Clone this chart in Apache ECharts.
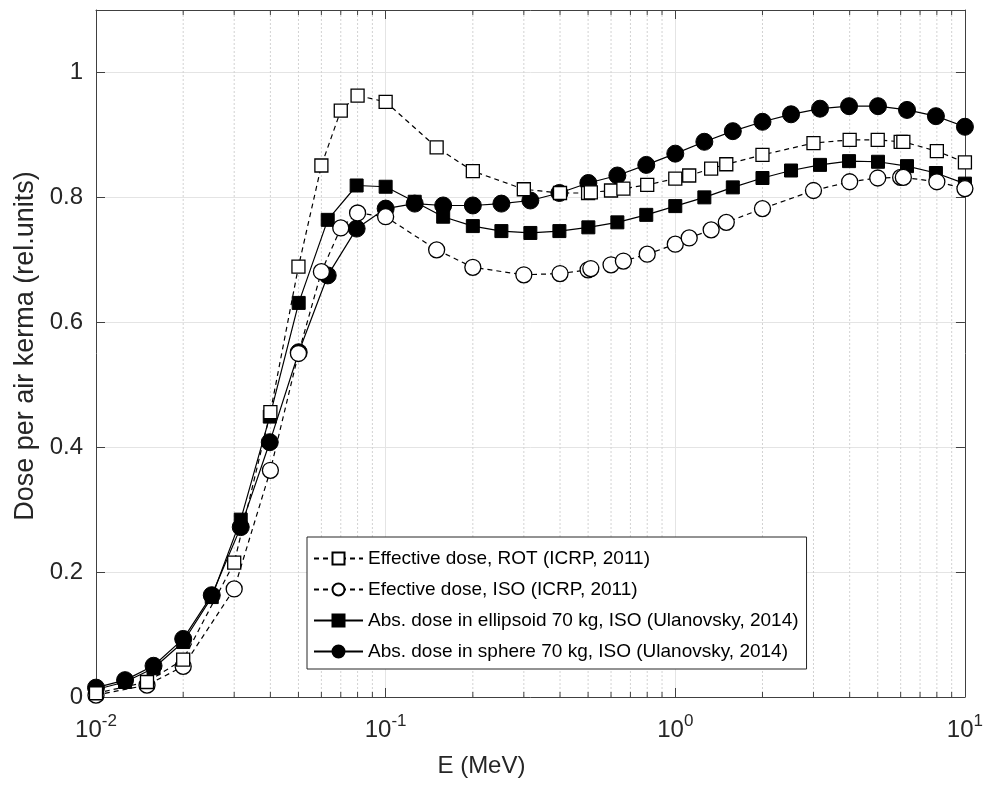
<!DOCTYPE html>
<html>
<head>
<meta charset="utf-8">
<script src="https://cdn.jsdelivr.net/npm/echarts@6/dist/echarts.min.js"></script>
<style>
  html, body { margin: 0; padding: 0; background: #fff; }
  #chart { width: 986px; height: 787px; }
</style>
</head>
<body>
<div id="chart"></div>
<script>
// Photon energies (MeV) of the ICRP 116 effective-dose tables
const energyICRP = [0.01, 0.015, 0.02, 0.03, 0.04, 0.05, 0.06, 0.07, 0.08, 0.1,
  0.15, 0.2, 0.3, 0.4, 0.5, 0.511, 0.6, 0.662, 0.8, 1, 1.117, 1.33, 1.5, 2,
  3, 4, 5, 6, 6.129, 8, 10];

// Effective dose per air kerma, rotational geometry
const effectiveRot = [0.006, 0.024, 0.060, 0.215, 0.456, 0.689, 0.851, 0.939, 0.963, 0.953,
  0.880, 0.842, 0.813, 0.807, 0.807, 0.808, 0.811, 0.814, 0.820, 0.830, 0.835, 0.846, 0.853, 0.868,
  0.887, 0.892, 0.892, 0.889, 0.889, 0.874, 0.856];

// Effective dose per air kerma, isotropic geometry
const effectiveIso = [0.003, 0.019, 0.049, 0.173, 0.363, 0.550, 0.681, 0.751, 0.775, 0.769,
  0.716, 0.688, 0.676, 0.678, 0.684, 0.686, 0.692, 0.698, 0.709, 0.725, 0.735, 0.748, 0.760, 0.782,
  0.811, 0.825, 0.831, 0.832, 0.832, 0.825, 0.814];

// Energies (MeV) of the phantom calculations, ten per decade
const energyPhantom = [0.01, 0.0126, 0.0158, 0.02, 0.0251, 0.0316, 0.0398, 0.0501, 0.0631, 0.0794,
  0.1, 0.126, 0.158, 0.2, 0.251, 0.316, 0.398, 0.501, 0.631, 0.794,
  1, 1.26, 1.58, 2, 2.51, 3.16, 3.98, 5.01, 6.31, 7.94, 10];

// Absorbed dose in the 70 kg ellipsoid, isotropic
const absEllipsoid = [0.012, 0.024, 0.046, 0.088, 0.160, 0.284, 0.449, 0.631, 0.764, 0.819,
  0.817, 0.793, 0.769, 0.754, 0.746, 0.743, 0.746, 0.752, 0.760, 0.772,
  0.786, 0.800, 0.816, 0.831, 0.843, 0.852, 0.858, 0.857, 0.850, 0.839, 0.822];

// Absorbed dose in the 70 kg sphere, isotropic
const absSphere = [0.015, 0.027, 0.050, 0.093, 0.163, 0.272, 0.408, 0.552, 0.675, 0.750,
  0.782, 0.790, 0.787, 0.787, 0.790, 0.795, 0.807, 0.823, 0.835, 0.852,
  0.870, 0.889, 0.906, 0.921, 0.933, 0.942, 0.946, 0.946, 0.940, 0.930, 0.913];

// Minor grid positions of the logarithmic energy axis
const xMinorGrid = [0.02, 0.03, 0.04, 0.05, 0.06, 0.07, 0.08, 0.09,
  0.2, 0.3, 0.4, 0.5, 0.6, 0.7, 0.8, 0.9,
  2, 3, 4, 5, 6, 7, 8, 9];

const seriesNames = [
  'Effective dose, ROT (ICRP, 2011)',
  'Efective dose, ISO (ICRP, 2011)',
  'Abs. dose in ellipsoid 70 kg, ISO (Ulanovsky, 2014)',
  'Abs. dose in sphere 70 kg, ISO (Ulanovsky, 2014)'
];

const X_MIN = 0.01, X_MAX = 10, Y_MIN = 0, Y_MAX = 1.1;
const FONT = '"Liberation Sans", Arial, Helvetica, sans-serif';
const AXIS_COLOR = '#404040';
const TEXT_COLOR = '#262626';

const pairs = (xs, ys) => xs.map((x, i) => [x, ys[i]]);

const chart = echarts.init(document.getElementById('chart'), null, { renderer: 'canvas' });

const logAxisBase = {
  type: 'log', logBase: 10, min: X_MIN, max: X_MAX, interval: 1,
  axisLine: { show: true, onZero: false, lineStyle: { color: AXIS_COLOR, width: 1 } },
  axisTick: { show: true, inside: true, length: 9, lineStyle: { color: AXIS_COLOR } }
};
const valueAxisBase = {
  type: 'value', min: Y_MIN, max: Y_MAX, interval: 0.2,
  axisLine: { show: true, onZero: false, lineStyle: { color: AXIS_COLOR, width: 1 } },
  axisTick: { show: true, inside: true, length: 9, lineStyle: { color: AXIS_COLOR } }
};

const lineSeries = (name, xs, ys, symbol, size, filled, dashed) => ({
  name, type: 'line', data: pairs(xs, ys),
  symbol, symbolSize: size, showAllSymbol: true,
  lineStyle: { color: '#000', width: 1.2, type: dashed ? [5, 4] : 'solid' },
  itemStyle: filled
    ? { color: '#000', borderColor: '#000', borderWidth: 1 }
    : { color: '#fff', borderColor: '#000', borderWidth: 1.3 },
  emphasis: { disabled: true },
  z: 3
});

chart.setOption({
  animation: false,
  backgroundColor: '#fff',
  textStyle: { fontFamily: FONT },
  grid: { left: 96, right: 20, top: 10, bottom: 90, containLabel: false },
  xAxis: [
    Object.assign({}, logAxisBase, {
      position: 'bottom',
      name: 'E (MeV)', nameLocation: 'middle', nameGap: 57,
      nameTextStyle: { fontSize: 24, color: TEXT_COLOR, fontFamily: FONT, padding: [0, 98, 0, 0] },
      axisLabel: {
        margin: 21, color: TEXT_COLOR, fontFamily: FONT,
        formatter: v => '{b|10}{s|' + Math.round(Math.log10(v)) + '}',
        rich: {
          b: { fontSize: 24, lineHeight: 24, verticalAlign: 'bottom', color: TEXT_COLOR, fontFamily: FONT },
          s: { fontSize: 17, lineHeight: 17, verticalAlign: 'bottom', padding: [0, 0, 12, 0], color: TEXT_COLOR, fontFamily: FONT }
        }
      },
      splitLine: { show: true, lineStyle: { color: '#e4e4e4', width: 1 } }
    }),
    Object.assign({}, logAxisBase, {
      position: 'top',
      axisLabel: { show: false },
      splitLine: { show: false }
    })
  ],
  yAxis: [
    Object.assign({}, valueAxisBase, {
      position: 'left',
      name: 'Dose per air kerma (rel.units)', nameLocation: 'middle', nameGap: 56,
      nameTextStyle: { fontSize: 27, color: TEXT_COLOR, fontFamily: FONT, padding: [0, 0, 0, 15] },
      axisLabel: { fontSize: 24, margin: 13, color: TEXT_COLOR, fontFamily: FONT, showMaxLabel: false },
      splitLine: { show: true, lineStyle: { color: '#e4e4e4', width: 1 } }
    }),
    Object.assign({}, valueAxisBase, {
      position: 'right',
      axisLabel: { show: false },
      splitLine: { show: false }
    })
  ],
  legend: {
    data: seriesNames,
    orient: 'vertical', left: 307, top: 537,
    itemWidth: 49, itemHeight: 15, itemGap: 12,
    padding: [12, 8, 8, 6],
    backgroundColor: '#fff', borderColor: '#262626', borderWidth: 1, borderRadius: 0,
    textStyle: { fontSize: 19, color: '#000', fontFamily: FONT },
    selectedMode: false,
    z: 10
  },
  series: [
    {
      // dotted minor grid lines with short inward ticks on the top and bottom frame
      type: 'custom', silent: true, z: 1,
      xAxisIndex: 0, yAxisIndex: 0,
      data: xMinorGrid.map(v => [v, Y_MIN]),
      encode: { x: 0, y: 1 },
      renderItem: (params, api) => {
        const x = api.value(0);
        const b = api.coord([x, Y_MIN]);
        const t = api.coord([x, Y_MAX]);
        return {
          type: 'group',
          children: [
            { type: 'line', shape: { x1: b[0], y1: b[1], x2: t[0], y2: t[1] },
              style: { stroke: '#d2d2d2', lineWidth: 1, lineDash: [2, 2] } },
            { type: 'line', shape: { x1: b[0], y1: b[1], x2: b[0], y2: b[1] - 5 },
              style: { stroke: AXIS_COLOR, lineWidth: 1 } },
            { type: 'line', shape: { x1: t[0], y1: t[1], x2: t[0], y2: t[1] + 5 },
              style: { stroke: AXIS_COLOR, lineWidth: 1 } }
          ]
        };
      }
    },
    lineSeries(seriesNames[2], energyPhantom, absEllipsoid, 'rect', 13, true, false),
    lineSeries(seriesNames[3], energyPhantom, absSphere, 'circle', 17, true, false),
    lineSeries(seriesNames[1], energyICRP, effectiveIso, 'circle', 16, false, true),
    lineSeries(seriesNames[0], energyICRP, effectiveRot, 'rect', 13, false, true)
  ]
});
</script>
</body>
</html>
